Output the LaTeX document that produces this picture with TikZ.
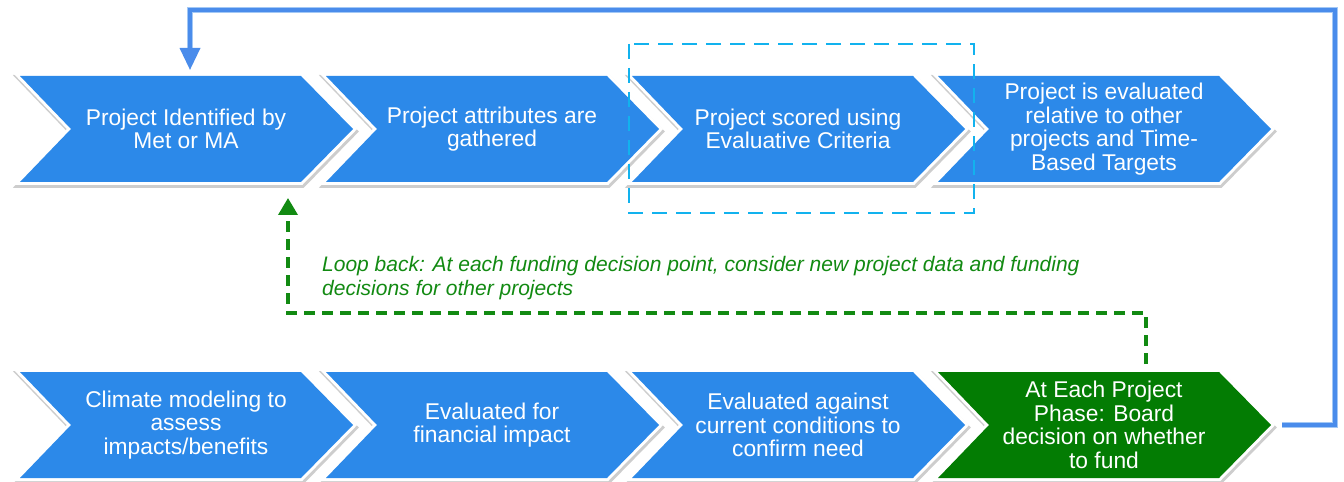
\documentclass[tikz,border=0pt]{standalone}
\usepackage{fontspec}
\setmainfont{Liberation Sans}
\usetikzlibrary{arrows.meta}

\definecolor{chevblue}{HTML}{2C89E9}
\definecolor{chevgreen}{HTML}{037C03}
\definecolor{loopblue}{HTML}{4A8CEB}
\definecolor{loopedge}{HTML}{A3C8F5}
\definecolor{loopgreen}{HTML}{128A12}
\definecolor{dashcyan}{HTML}{12B2EE}

\tikzset{
  chevtext/.style={text=white, align=center, inner sep=0pt,
    font=\fontsize{22.8bp}{23.5bp}\selectfont},
  chevshadow/.style={draw=black!28, line width=7bp, line join=miter, opacity=0.7},
  chevrim/.style={draw=white, fill=white, line width=6bp, line join=miter},
  notetext/.style={text=loopgreen, align=left, inner sep=0pt,
    font=\fontsize{21bp}{24bp}\selectfont\itshape},
  feedback/.style={line width=3.5bp, draw=loopblue},
  feedbackedge/.style={line width=6bp, draw=loopedge},
  loopline/.style={draw=loopgreen, line width=3.6bp, dash pattern=on 11bp off 7bp},
  focusbox/.style={draw=dashcyan, line width=2.5bp, dash pattern=on 15bp off 9bp}
}

% chevron outline, relative to its top-left corner
\def\chevpath{(0,0) -- (281,0) -- (333,53) -- (281,106) -- (0,106) -- (51,53) -- cycle}

% #1 left x, #2 top y, #3 fill colour, #4 name, #5 label
\newcommand{\stagechev}[5]{%
  \begin{scope}[shift={(#1,#2)}]
    \path[chevshadow] [shift={(1,2.5)}] \chevpath;
    \path[chevrim] \chevpath;
    \path[fill=#3] \chevpath;
    \node[chevtext] (#4) at (166,53) {#5};
    \coordinate (#4-tip) at (333,53);
  \end{scope}}

\begin{document}
\begin{tikzpicture}[x=1bp, y=-1bp]
  \useasboundingbox[fill=white] (0,0) rectangle (1344,482);

  % upper row of stages
  \stagechev{20}{76}{chevblue}{s1}{Project Identified by\\Met or MA}
  \stagechev{326}{76}{chevblue}{s2}{Project attributes are\\gathered}
  \stagechev{632}{76}{chevblue}{s3}{Project scored using\\Evaluative Criteria}
  \stagechev{938}{76}{chevblue}{s4}{Project is evaluated\\relative to other\\projects and Time-\\Based Targets}

  % lower row of stages
  \stagechev{20}{372}{chevblue}{s5}{Climate modeling to\\assess\\impacts/benefits}
  \stagechev{326}{372}{chevblue}{s6}{Evaluated for\\financial impact}
  \stagechev{632}{372}{chevblue}{s7}{Evaluated against\\current conditions to\\confirm need}
  \stagechev{938}{372}{chevgreen}{s8}{At Each Project\\Phase: Board\\decision on whether\\to fund}

  % highlight around the scoring step
  \draw[focusbox] (629,44) rectangle (974,213);

  % feedback from the funding decision to a new project
  \coordinate (fbout) at ([xshift=11bp]s8-tip);
  \coordinate (fbcorner) at (1335,10);
  \coordinate (fbin) at (190,70);
  \coordinate (fbbase) at (190,50);
  \draw[feedbackedge] (fbout) -| (fbcorner) -| (fbbase);
  \draw[feedback, -{Triangle[width=20bp,length=22bp]}] (fbout) -| (fbcorner) -| (fbin);

  % dashed loop back into the process
  \coordinate (lbstart) at (1146,364);
  \coordinate (lbturn) at (288,313);
  \coordinate (lbend) at (288,198);
  \draw[loopline, -{Triangle[width=19bp,length=17bp]}] (lbstart) |- (lbturn) -- (lbend);
  \node[notetext, anchor=base west] (note) at (322,295)
    {Loop back: At each funding decision point, consider new project data and funding\\decisions for other projects};
\end{tikzpicture}
\end{document}
